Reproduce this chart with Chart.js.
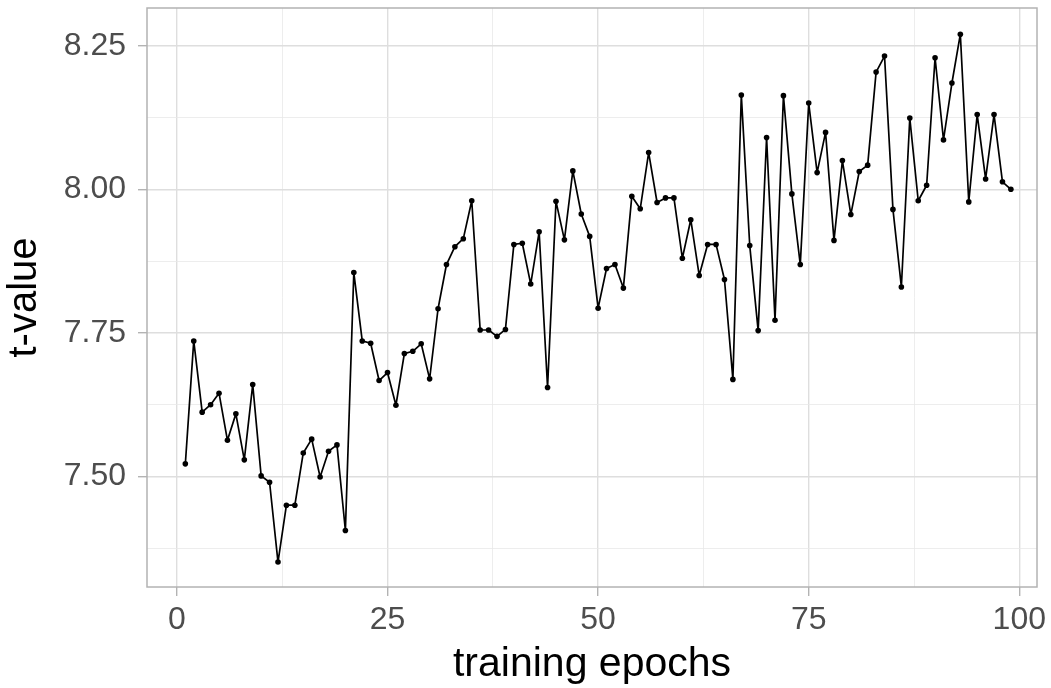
<!DOCTYPE html>
<html>
<head>
<meta charset="utf-8">
<script src="https://cdn.jsdelivr.net/npm/chart.js@4.4.1/dist/chart.umd.min.js"></script>
<style>
  html, body { margin: 0; padding: 0; background: #ffffff; }
  #wrap { width: 1051px; height: 688px; }
</style>
</head>
<body>
<div id="wrap"><canvas id="tChart" width="1051" height="688"></canvas></div>
<script>
// epochs 1..99
var epochs = [];
for (var e = 1; e <= 99; e++) epochs.push(e);

var tValues = [
  7.522, 7.736, 7.612, 7.625, 7.645, 7.563, 7.609, 7.529, 7.660, 7.501,
  7.490, 7.351, 7.450, 7.450, 7.541, 7.565, 7.499, 7.544, 7.555, 7.406,
  7.855, 7.736, 7.732, 7.667, 7.681, 7.624, 7.714, 7.718, 7.731, 7.670,
  7.792, 7.869, 7.900, 7.914, 7.980, 7.755, 7.755, 7.744, 7.756, 7.904,
  7.906, 7.835, 7.926, 7.655, 7.979, 7.912, 8.032, 7.957, 7.918, 7.793,
  7.862, 7.869, 7.828, 7.988, 7.966, 8.064, 7.977, 7.985, 7.985, 7.880,
  7.947, 7.850, 7.904, 7.904, 7.843, 7.669, 8.164, 7.902, 7.754, 8.090,
  7.772, 8.163, 7.992, 7.869, 8.150, 8.029, 8.099, 7.911, 8.050, 7.956,
  8.031, 8.042, 8.204, 8.232, 7.965, 7.830, 8.124, 7.980, 8.007, 8.229,
  8.086, 8.185, 8.270, 7.978, 8.130, 8.018, 8.130, 8.013, 8.000
];

var xMajor = [0, 25, 50, 75, 100];
var xMinor = [12.5, 37.5, 62.5, 87.5];
var yMajor = [7.50, 7.75, 8.00, 8.25];
var yMinor = [7.375, 7.625, 7.875, 8.125];

var points = epochs.map(function (x, i) { return { x: x, y: tValues[i] }; });

function buildTicks(major, minor) {
  return major.concat(minor).sort(function (a, b) { return a - b; })
    .map(function (v) { return { value: v, major: major.indexOf(v) >= 0 }; });
}
function isMajor(ctx) { return ctx.tick && ctx.tick.major; }

// panel border like ggplot theme_light
var panelBorder = {
  id: 'panelBorder',
  afterDraw: function (chart) {
    var a = chart.chartArea, c = chart.ctx;
    c.save();
    c.strokeStyle = '#b3b3b3';
    c.lineWidth = 1.5;
    c.strokeRect(a.left, a.top, a.right - a.left, a.bottom - a.top);
    c.restore();
  }
};

var gridOpts = {
  color: function (ctx) { return isMajor(ctx) ? '#dedede' : '#e8e8e8'; },
  lineWidth: function (ctx) { return isMajor(ctx) ? 1.4 : 0.8; },
  tickColor: function (ctx) { return isMajor(ctx) ? '#b3b3b3' : 'rgba(0,0,0,0)'; },
  tickLength: 9,
  tickWidth: 1.4
};

var font = 'Liberation Sans, Arial, sans-serif';

var ctx = document.getElementById('tChart').getContext('2d');
var myChart = new Chart(ctx, {
  type: 'line',
  data: {
    datasets: [{
      data: points,
      borderColor: '#000000',
      backgroundColor: '#000000',
      borderWidth: 1.7,
      borderJoinStyle: 'round',
      pointRadius: 2.8,
      pointHoverRadius: 2.8,
      pointBorderWidth: 0,
      tension: 0,
      fill: false
    }]
  },
  options: {
    responsive: false,
    animation: false,
    layout: { padding: { left: 0, top: 8, right: 14, bottom: 0 } },
    plugins: { legend: { display: false }, tooltip: { enabled: false } },
    scales: {
      x: {
        type: 'linear',
        min: -3.55,
        max: 102.1,
        afterBuildTicks: function (axis) { axis.ticks = buildTicks(xMajor, xMinor); },
        afterFit: function (axis) {
          axis.height = 101;
          axis.paddingLeft = 0; axis.paddingRight = 0;
        },
        grid: gridOpts,
        border: { display: false },
        ticks: {
          autoSkip: false,
          maxRotation: 0,
          padding: 5,
          color: '#4d4d4d',
          font: { family: font, size: 32 },
          callback: function (v) { return xMinor.indexOf(v) >= 0 ? '' : String(v); }
        },
        title: {
          display: true,
          text: 'training epochs',
          color: '#000000',
          font: { family: font, size: 41, lineHeight: 1 },
          padding: { top: 0, bottom: 3 }
        }
      },
      y: {
        type: 'linear',
        min: 7.3076,
        max: 8.3156,
        afterBuildTicks: function (axis) { axis.ticks = buildTicks(yMajor, yMinor); },
        afterFit: function (axis) {
          axis.width = 147;
          axis.paddingTop = 0; axis.paddingBottom = 0;
        },
        grid: gridOpts,
        border: { display: false },
        ticks: {
          autoSkip: false,
          padding: 12,
          color: '#4d4d4d',
          font: { family: font, size: 32 },
          callback: function (v) { return yMinor.indexOf(v) >= 0 ? '' : v.toFixed(2); }
        },
        title: {
          display: true,
          text: 't-value',
          color: '#000000',
          font: { family: font, size: 40, lineHeight: 1 },
          padding: { top: 5, bottom: 0 }
        }
      }
    }
  },
  plugins: [panelBorder]
});
</script>
</body>
</html>
